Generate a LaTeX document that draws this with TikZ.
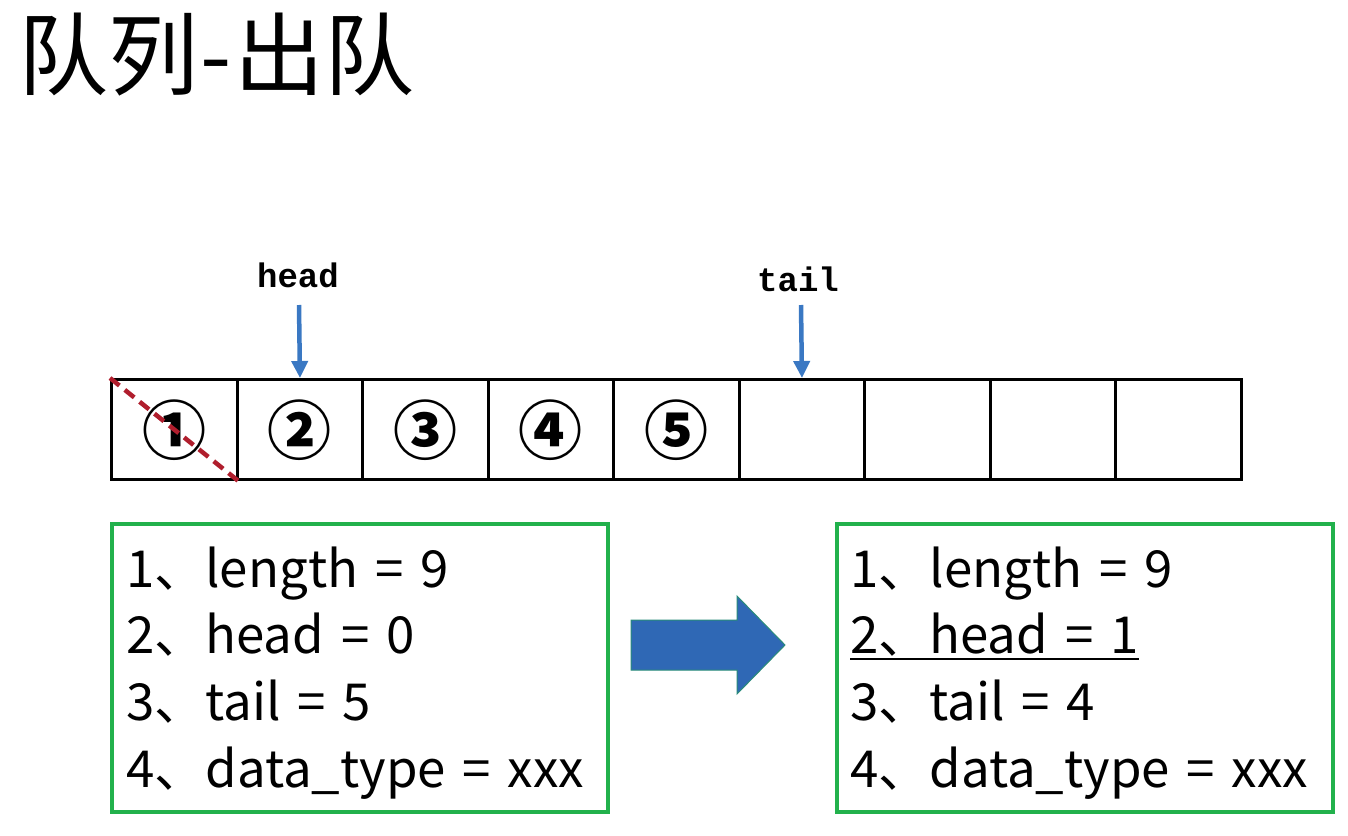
\documentclass[tikz,border=0pt]{standalone}
\usepackage{fontspec}
\newfontfamily\cjk{Noto Sans CJK SC}
\newfontfamily\mono{Liberation Mono}
\usetikzlibrary{arrows.meta}
\definecolor{gboxc}{HTML}{22B14C}
\definecolor{ablue}{HTML}{3A78C3}
\definecolor{dred}{HTML}{B01E2D}
\definecolor{bigblue}{HTML}{2F68B5}
\definecolor{bigedge}{HTML}{2A8C7A}
\newcommand\eqsign{\hspace{0.33em}=\hspace{0.33em}}
\begin{document}
\begin{tikzpicture}[x=1pt,y=-1pt,
  cell/.style={draw=black,line width=3.4pt,minimum width=125.5pt,minimum height=100pt,inner sep=0pt,anchor=north west,font=\cjk\bfseries\fontsize{64}{64}\selectfont},
  lbl/.style={font=\mono\bfseries\fontsize{34}{34}\selectfont,inner sep=0pt},
  ptr/.style={draw=ablue,line width=4.5pt,-{Triangle[length=17pt,width=16pt]}},
  infobox/.style={draw=gboxc,line width=4pt,minimum width=496pt,minimum height=288pt,inner sep=0pt,anchor=north west},
  info/.style={anchor=base west,inner sep=0pt,font=\cjk\fontsize{51}{51}\selectfont},
  crossout/.style={draw=dred,line width=4.5pt,dash pattern=on 12pt off 7pt},
]
\useasboundingbox (0,0) rectangle (1348,835);
\fill[white] (0,0) rectangle (1348,835);

% title
\node[anchor=base west,inner sep=0pt,font=\cjk\fontsize{90}{90}\selectfont] (title) at (18,88) {队列\hspace{0.03em}-\hspace{0.03em}出队};

% array cells
\foreach \i/\t in {1/①,2/②,3/③,4/④,5/⑤,6/,7/,8/,9/}{
  \node[cell] (c\i) at ({110+125.5*(\i-1)},378) {\t};
}
\draw[crossout] (c1.north west) -- (c1.south east);

% pointers
\node[lbl] (hl) at (298,275) {head};
\node[lbl] (tl) at (798,279) {tail};
\coordinate (hs) at (299,305);
\coordinate (ts) at (801,305);
\draw[ptr] (hs) -- (c2.north);
\draw[ptr] (ts) -- (c6.north);

% info boxes
\node[infobox] (L) at (110,522) {};
\node[infobox] (R) at (835,522) {};

\node[info] (l1) at (126,587) {1、length\eqsign 9};
\node[info] (l2) at (126,653) {2、head\eqsign 0};
\node[info] (l3) at (126,720) {3、tail\eqsign 5};
\node[info] (l4) at (126,787) {4、data\_type\eqsign xxx};

\node[info] (r1) at (850,587) {1、length\eqsign 9};
\node[info] (r2) at (850,653) {2、head\eqsign 1};
\node[info] (r3) at (850,720) {3、tail\eqsign 4};
\node[info] (r4) at (850,787) {4、data\_type\eqsign xxx};
\draw[line width=2.5pt] ([yshift=-6pt]r2.base west) -- ([yshift=-6pt]r2.base east);

% big arrow
\draw[fill=bigblue,draw=bigedge,line width=1pt] (631,620) -- (737,620) -- (737,596) -- (785,645) -- (737,694) -- (737,670) -- (631,670) -- cycle;
\end{tikzpicture}
\end{document}
